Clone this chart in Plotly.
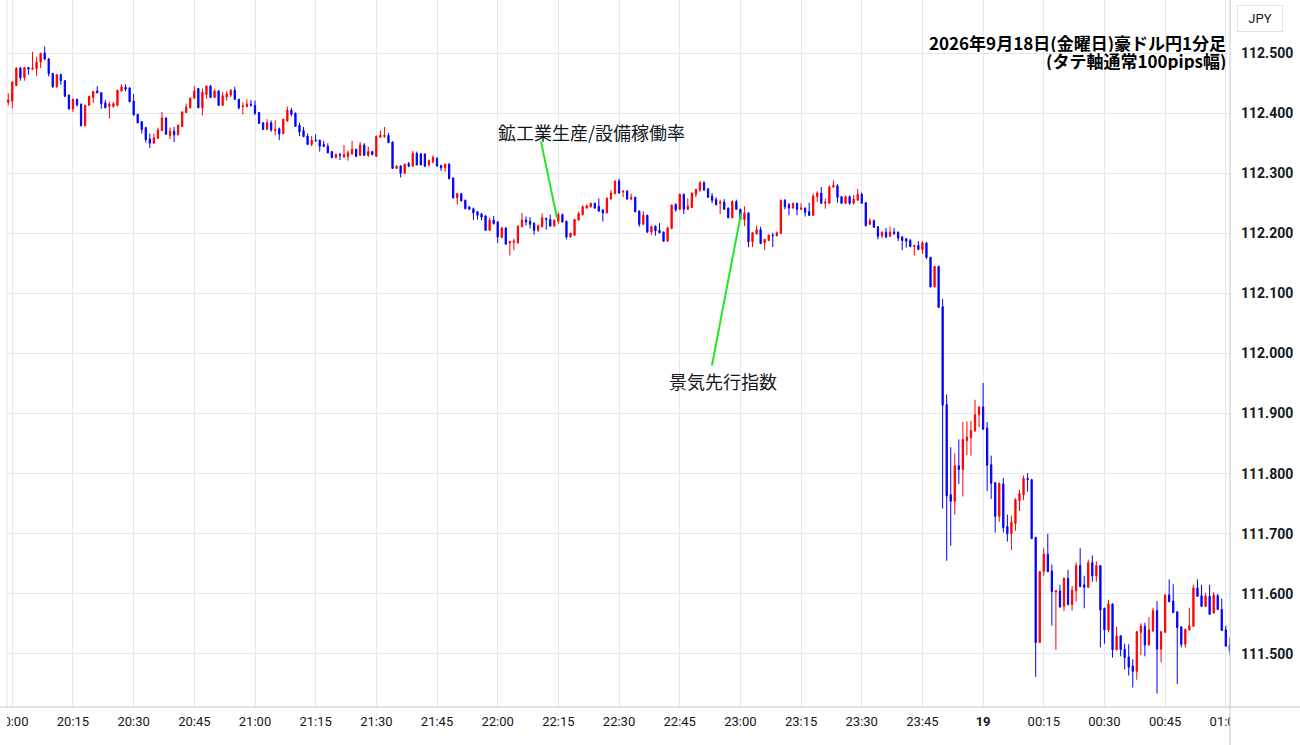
import plotly.graph_objects as go
import pandas as pd

# ---------------- data (AUD/JPY 1-minute candles, 19:59 -> 01:01) ----------------
start_time = "2026-09-18 19:59"

open_ = [
    112.418, 112.420, 112.446, 112.475, 112.459, 112.476, 112.473, 112.474, 112.485, 112.500,
    112.490, 112.466, 112.444, 112.464, 112.454, 112.430, 112.407, 112.423, 112.415, 112.379,
    112.413, 112.426, 112.437, 112.434, 112.417, 112.411, 112.411, 112.413, 112.437, 112.443,
    112.442, 112.420, 112.398, 112.386, 112.376, 112.357, 112.350, 112.358, 112.371, 112.392,
    112.363, 112.370, 112.364, 112.378, 112.401, 112.409, 112.425, 112.441, 112.409, 112.431,
    112.445, 112.426, 112.437, 112.413, 112.427, 112.430, 112.438, 112.423, 112.411, 112.411,
    112.415, 112.413, 112.401, 112.384, 112.373, 112.384, 112.371, 112.374, 112.366, 112.387,
    112.405, 112.400, 112.380, 112.371, 112.362, 112.348, 112.355, 112.355, 112.348, 112.345,
    112.336, 112.326, 112.331, 112.327, 112.328, 112.332, 112.340, 112.330, 112.347, 112.330,
    112.336, 112.328, 112.360, 112.361, 112.363, 112.352, 112.308, 112.312, 112.300, 112.316,
    112.312, 112.333, 112.332, 112.332, 112.314, 112.319, 112.324, 112.313, 112.309, 112.315,
    112.292, 112.259, 112.266, 112.255, 112.244, 112.241, 112.236, 112.232, 112.229, 112.205,
    112.222, 112.219, 112.193, 112.209, 112.184, 112.185, 112.184, 112.211, 112.222, 112.220,
    112.217, 112.205, 112.211, 112.225, 112.223, 112.212, 112.220, 112.231, 112.220, 112.194,
    112.197, 112.222, 112.231, 112.242, 112.244, 112.250, 112.245, 112.239, 112.234, 112.257,
    112.266, 112.287, 112.269, 112.270, 112.257, 112.260, 112.237, 112.215, 112.230, 112.202,
    112.212, 112.205, 112.202, 112.187, 112.208, 112.248, 112.240, 112.265, 112.240, 112.243,
    112.265, 112.272, 112.284, 112.274, 112.262, 112.256, 112.250, 112.252, 112.242, 112.226,
    112.253, 112.240, 112.223, 112.234, 112.186, 112.199, 112.206, 112.184, 112.188, 112.197,
    112.196, 112.200, 112.255, 112.248, 112.242, 112.250, 112.240, 112.242, 112.236, 112.230,
    112.261, 112.267, 112.250, 112.250, 112.277, 112.279, 112.261, 112.250, 112.261, 112.250,
    112.255, 112.265, 112.251, 112.215, 112.221, 112.211, 112.196, 112.202, 112.195, 112.202,
    112.202, 112.194, 112.191, 112.188, 112.178, 112.180, 112.173, 112.184, 112.160, 112.111,
    112.145, 112.078, 111.915, 111.765, 111.754, 111.813, 111.807, 111.855, 111.860, 111.871,
    111.898, 111.911, 111.876, 111.815, 111.785, 111.729, 111.783, 111.712, 111.700, 111.717,
    111.755, 111.765, 111.792, 111.790, 111.694, 111.519, 111.637, 111.666, 111.638, 111.603,
    111.605, 111.579, 111.626, 111.582, 111.605, 111.647, 111.615, 111.611, 111.652, 111.630,
    111.647, 111.576, 111.540, 111.583, 111.507, 111.530, 111.508, 111.495, 111.480, 111.471,
    111.536, 111.546, 111.515, 111.538, 111.572, 111.508, 111.536, 111.598, 111.588, 111.570,
    111.545, 111.516, 111.540, 111.546, 111.610, 111.597, 111.579, 111.596, 111.568, 111.597,
    111.574, 111.540, 111.515,
]

high = [
    112.433, 112.453, 112.476, 112.477, 112.477, 112.477, 112.502, 112.494, 112.501, 112.511,
    112.492, 112.467, 112.465, 112.466, 112.455, 112.431, 112.424, 112.424, 112.416, 112.414,
    112.429, 112.437, 112.445, 112.435, 112.422, 112.419, 112.418, 112.439, 112.448, 112.448,
    112.443, 112.432, 112.399, 112.387, 112.377, 112.366, 112.366, 112.376, 112.402, 112.393,
    112.376, 112.377, 112.381, 112.403, 112.416, 112.426, 112.445, 112.442, 112.441, 112.446,
    112.447, 112.440, 112.438, 112.435, 112.436, 112.440, 112.444, 112.424, 112.418, 112.423,
    112.422, 112.421, 112.402, 112.385, 112.390, 112.388, 112.388, 112.376, 112.391, 112.411,
    112.409, 112.401, 112.384, 112.377, 112.366, 112.362, 112.365, 112.356, 112.354, 112.350,
    112.337, 112.333, 112.334, 112.347, 112.338, 112.354, 112.341, 112.352, 112.350, 112.344,
    112.337, 112.363, 112.371, 112.377, 112.367, 112.353, 112.313, 112.313, 112.316, 112.319,
    112.337, 112.336, 112.334, 112.333, 112.323, 112.330, 112.327, 112.314, 112.316, 112.317,
    112.293, 112.267, 112.267, 112.256, 112.245, 112.243, 112.237, 112.234, 112.230, 112.226,
    112.229, 112.220, 112.211, 112.210, 112.188, 112.191, 112.213, 112.234, 112.228, 112.227,
    112.218, 112.215, 112.233, 112.226, 112.231, 112.223, 112.235, 112.233, 112.221, 112.201,
    112.224, 112.236, 112.247, 112.248, 112.251, 112.251, 112.258, 112.240, 112.260, 112.272,
    112.288, 112.291, 112.272, 112.272, 112.266, 112.261, 112.238, 112.237, 112.231, 112.213,
    112.213, 112.217, 112.203, 112.211, 112.248, 112.250, 112.266, 112.266, 112.258, 112.268,
    112.274, 112.287, 112.287, 112.275, 112.267, 112.260, 112.256, 112.257, 112.243, 112.255,
    112.256, 112.241, 112.245, 112.235, 112.202, 112.213, 112.211, 112.191, 112.198, 112.201,
    112.203, 112.256, 112.257, 112.250, 112.251, 112.251, 112.250, 112.243, 112.251, 112.266,
    112.270, 112.277, 112.258, 112.280, 112.288, 112.282, 112.262, 112.263, 112.263, 112.264,
    112.274, 112.268, 112.252, 112.225, 112.223, 112.212, 112.203, 112.209, 112.211, 112.209,
    112.203, 112.195, 112.192, 112.191, 112.181, 112.187, 112.187, 112.185, 112.161, 112.146,
    112.146, 112.091, 111.932, 111.844, 111.834, 111.857, 111.886, 111.887, 111.888, 111.923,
    111.912, 111.951, 111.886, 111.830, 111.786, 111.785, 111.793, 111.732, 111.730, 111.759,
    111.773, 111.797, 111.801, 111.791, 111.695, 111.638, 111.676, 111.700, 111.649, 111.606,
    111.615, 111.627, 111.640, 111.613, 111.652, 111.676, 111.630, 111.657, 111.664, 111.654,
    111.648, 111.577, 111.590, 111.584, 111.545, 111.531, 111.517, 111.516, 111.491, 111.538,
    111.551, 111.552, 111.561, 111.577, 111.588, 111.538, 111.599, 111.624, 111.616, 111.571,
    111.546, 111.542, 111.577, 111.615, 111.624, 111.615, 111.602, 111.615, 111.603, 111.600,
    111.592, 111.547, 111.527,
]

low = [
    112.413, 112.408, 112.445, 112.454, 112.454, 112.464, 112.472, 112.462, 112.475, 112.488,
    112.461, 112.442, 112.442, 112.447, 112.427, 112.406, 112.402, 112.411, 112.378, 112.378,
    112.412, 112.417, 112.433, 112.407, 112.408, 112.391, 112.409, 112.411, 112.436, 112.436,
    112.418, 112.396, 112.383, 112.366, 112.351, 112.342, 112.349, 112.357, 112.370, 112.364,
    112.357, 112.352, 112.363, 112.377, 112.400, 112.408, 112.424, 112.408, 112.396, 112.424,
    112.425, 112.425, 112.412, 112.412, 112.421, 112.427, 112.422, 112.406, 112.398, 112.410,
    112.411, 112.397, 112.382, 112.372, 112.372, 112.369, 112.363, 112.355, 112.365, 112.386,
    112.395, 112.377, 112.362, 112.360, 112.347, 112.345, 112.353, 112.336, 112.343, 112.333,
    112.325, 112.325, 112.322, 112.326, 112.321, 112.331, 112.327, 112.329, 112.329, 112.327,
    112.330, 112.327, 112.359, 112.359, 112.350, 112.307, 112.307, 112.293, 112.299, 112.310,
    112.311, 112.313, 112.313, 112.310, 112.311, 112.316, 112.311, 112.304, 112.302, 112.290,
    112.258, 112.248, 112.253, 112.240, 112.239, 112.222, 112.223, 112.222, 112.204, 112.204,
    112.215, 112.184, 112.192, 112.181, 112.163, 112.172, 112.183, 112.210, 112.213, 112.208,
    112.198, 112.202, 112.210, 112.206, 112.211, 112.211, 112.216, 112.218, 112.190, 112.193,
    112.196, 112.221, 112.230, 112.241, 112.243, 112.241, 112.236, 112.220, 112.233, 112.256,
    112.265, 112.266, 112.260, 112.256, 112.255, 112.235, 112.211, 112.214, 112.201, 112.197,
    112.196, 112.200, 112.186, 112.186, 112.207, 112.236, 112.239, 112.232, 112.239, 112.242,
    112.260, 112.269, 112.271, 112.259, 112.250, 112.246, 112.232, 112.239, 112.225, 112.225,
    112.239, 112.222, 112.212, 112.177, 112.177, 112.198, 112.182, 112.172, 112.187, 112.177,
    112.195, 112.199, 112.240, 112.230, 112.241, 112.230, 112.239, 112.228, 112.229, 112.229,
    112.252, 112.249, 112.241, 112.249, 112.276, 112.251, 112.249, 112.249, 112.247, 112.248,
    112.254, 112.249, 112.211, 112.214, 112.209, 112.190, 112.192, 112.192, 112.194, 112.197,
    112.187, 112.172, 112.176, 112.177, 112.163, 112.172, 112.166, 112.157, 112.110, 112.110,
    112.076, 111.742, 111.655, 111.680, 111.732, 111.783, 111.762, 111.831, 111.830, 111.870,
    111.877, 111.873, 111.771, 111.758, 111.702, 111.720, 111.702, 111.687, 111.673, 111.705,
    111.738, 111.756, 111.770, 111.691, 111.462, 111.518, 111.630, 111.636, 111.547, 111.507,
    111.577, 111.571, 111.581, 111.572, 111.587, 111.611, 111.576, 111.610, 111.620, 111.620,
    111.511, 111.517, 111.536, 111.494, 111.506, 111.496, 111.474, 111.464, 111.444, 111.457,
    111.498, 111.496, 111.514, 111.537, 111.434, 111.486, 111.535, 111.586, 111.568, 111.450,
    111.511, 111.511, 111.539, 111.545, 111.595, 111.578, 111.578, 111.565, 111.567, 111.573,
    111.538, 111.512, 111.499,
]

close = [
    112.422, 112.452, 112.475, 112.459, 112.476, 112.473, 112.475, 112.485, 112.499, 112.490,
    112.466, 112.444, 112.464, 112.454, 112.428, 112.407, 112.423, 112.414, 112.379, 112.413,
    112.428, 112.436, 112.434, 112.416, 112.409, 112.415, 112.416, 112.438, 112.444, 112.440,
    112.419, 112.397, 112.384, 112.373, 112.356, 112.350, 112.359, 112.372, 112.392, 112.365,
    112.370, 112.364, 112.380, 112.402, 112.410, 112.425, 112.437, 112.409, 112.435, 112.445,
    112.426, 112.437, 112.413, 112.429, 112.432, 112.438, 112.423, 112.409, 112.412, 112.415,
    112.413, 112.400, 112.383, 112.373, 112.384, 112.372, 112.373, 112.365, 112.390, 112.405,
    112.398, 112.378, 112.369, 112.361, 112.348, 112.355, 112.354, 112.345, 112.345, 112.334,
    112.326, 112.331, 112.330, 112.331, 112.334, 112.340, 112.328, 112.347, 112.330, 112.336,
    112.331, 112.361, 112.363, 112.363, 112.351, 112.308, 112.312, 112.300, 112.315, 112.312,
    112.333, 112.314, 112.314, 112.312, 112.321, 112.326, 112.312, 112.309, 112.315, 112.291,
    112.259, 112.266, 112.254, 112.241, 112.240, 112.234, 112.230, 112.227, 112.205, 112.222,
    112.216, 112.194, 112.209, 112.182, 112.186, 112.187, 112.212, 112.222, 112.219, 112.215,
    112.205, 112.212, 112.226, 112.223, 112.212, 112.222, 112.231, 112.219, 112.194, 112.200,
    112.223, 112.233, 112.244, 112.246, 112.250, 112.242, 112.237, 112.234, 112.258, 112.267,
    112.287, 112.267, 112.270, 112.257, 112.260, 112.236, 112.215, 112.230, 112.202, 112.211,
    112.204, 112.201, 112.187, 112.209, 112.247, 112.239, 112.265, 112.240, 112.245, 112.267,
    112.273, 112.284, 112.272, 112.260, 112.255, 112.248, 112.252, 112.240, 112.226, 112.253,
    112.240, 112.223, 112.234, 112.186, 112.201, 112.206, 112.183, 112.190, 112.197, 112.196,
    112.201, 112.255, 112.244, 112.242, 112.250, 112.240, 112.242, 112.235, 112.230, 112.262,
    112.267, 112.250, 112.252, 112.277, 112.280, 112.260, 112.250, 112.261, 112.250, 112.257,
    112.265, 112.250, 112.213, 112.221, 112.210, 112.195, 112.202, 112.194, 112.202, 112.200,
    112.192, 112.188, 112.187, 112.178, 112.180, 112.173, 112.184, 112.160, 112.111, 112.145,
    112.077, 111.914, 111.763, 111.754, 111.813, 111.807, 111.857, 111.861, 111.872, 111.898,
    111.911, 111.874, 111.814, 111.784, 111.729, 111.784, 111.710, 111.700, 111.719, 111.757,
    111.767, 111.792, 111.790, 111.692, 111.519, 111.637, 111.666, 111.637, 111.604, 111.605,
    111.578, 111.626, 111.582, 111.606, 111.647, 111.612, 111.611, 111.652, 111.630, 111.647,
    111.573, 111.540, 111.583, 111.507, 111.530, 111.507, 111.494, 111.478, 111.471, 111.537,
    111.546, 111.515, 111.540, 111.572, 111.508, 111.537, 111.598, 111.587, 111.569, 111.544,
    111.516, 111.541, 111.547, 111.610, 111.596, 111.579, 111.596, 111.566, 111.598, 111.574,
    111.539, 111.513, 111.505,
]

# x-axis ticks (every 15 minutes; the day change is shown as the date "19")
tick_times = [
    "2026-09-18 20:00", "2026-09-18 20:15", "2026-09-18 20:30", "2026-09-18 20:45",
    "2026-09-18 21:00", "2026-09-18 21:15", "2026-09-18 21:30", "2026-09-18 21:45",
    "2026-09-18 22:00", "2026-09-18 22:15", "2026-09-18 22:30", "2026-09-18 22:45",
    "2026-09-18 23:00", "2026-09-18 23:15", "2026-09-18 23:30", "2026-09-18 23:45",
    "2026-09-19 00:00", "2026-09-19 00:15", "2026-09-19 00:30", "2026-09-19 00:45",
    "2026-09-19 01:00",
]
tick_labels = [
    "20:00", "20:15", "20:30", "20:45", "21:00", "21:15", "21:30", "21:45",
    "22:00", "22:15", "22:30", "22:45", "23:00", "23:15", "23:30", "23:45",
    "<b>19</b>", "00:15", "00:30", "00:45", "01:00",
]

# y-axis ticks
price_ticks = [111.5, 111.6, 111.7, 111.8, 111.9, 112.0, 112.1, 112.2, 112.3, 112.4, 112.5]
price_labels = ["111.500", "111.600", "111.700", "111.800", "111.900", "112.000",
                "112.100", "112.200", "112.300", "112.400", "112.500"]

# economic-event annotations (label position and leader line, in time/price)
event_labels = ["鉱工業生産/設備稼働率", "景気先行指数"]
event_label_times = ["2026-09-18 22:23:04", "2026-09-18 22:55:42"]
event_label_prices = [112.368, 111.955]
leader_start_times = ["2026-09-18 22:10:42", "2026-09-18 22:52:58"]
leader_start_prices = [112.353, 111.980]
leader_end_times = ["2026-09-18 22:14:40", "2026-09-18 23:00:09"]
leader_end_prices = [112.225, 112.233]

title_lines = ["2026年9月18日(金曜日)豪ドル円1分足", "(タテ軸通常100pips幅)"]

x_range = ["2026-09-18 19:58:41.4", "2026-09-19 01:01:02.4"]
y_range = [111.41167, 112.58833]

# ---------------- figure ----------------
UP = "#ff0000"
DOWN = "#0000ff"
GRID = "#e3e8ef"
AXIS = "#c3c6ce"
TXT = "#131722"
JP_FONT = "Noto Sans CJK JP"

times = pd.date_range(start_time, periods=len(open_), freq="1min")

fig = go.Figure(
    go.Candlestick(
        x=times, open=open_, high=high, low=low, close=close,
        increasing=dict(line=dict(color=UP, width=1), fillcolor=UP),
        decreasing=dict(line=dict(color=DOWN, width=1), fillcolor=DOWN),
        whiskerwidth=0,
        hoverinfo="skip",
        showlegend=False,
    )
)

W, H = 1300, 745
ML, MR, MT, MB = 7, 70, 0, 38
PW, PH = W - ML - MR, H - MT - MB

shapes = []
# white covers so x tick labels are clipped at the pane edges
shapes.append(dict(type="rect", xref="paper", yref="paper", x0=-ML / PW, x1=0,
                   y0=-MB / PH, y1=0, fillcolor="white", line=dict(width=0), layer="above"))
shapes.append(dict(type="rect", xref="paper", yref="paper", x0=1, x1=1 + MR / PW,
                   y0=-MB / PH, y1=0, fillcolor="white", line=dict(width=0), layer="above"))
# pane borders
shapes.append(dict(type="line", xref="paper", yref="paper", x0=0, x1=0, y0=0, y1=1,
                   line=dict(color=GRID, width=1), layer="below"))
shapes.append(dict(type="line", xref="paper", yref="paper", x0=1, x1=1, y0=-MB / PH, y1=1,
                   line=dict(color=AXIS, width=1), layer="above"))
shapes.append(dict(type="line", xref="paper", yref="paper", x0=-ML / PW, x1=1 + MR / PW,
                   y0=0, y1=0, line=dict(color=AXIS, width=1), layer="above"))
# event leader lines
for i in range(len(event_labels)):
    shapes.append(dict(type="line", xref="x", yref="y",
                       x0=leader_start_times[i], y0=leader_start_prices[i],
                       x1=leader_end_times[i], y1=leader_end_prices[i],
                       line=dict(color="#22e622", width=2), layer="above"))

annotations = []
for i, lab in enumerate(event_labels):
    annotations.append(dict(x=event_label_times[i], y=event_label_prices[i], xref="x", yref="y",
                            text=lab, showarrow=False, xanchor="center", yanchor="middle",
                            font=dict(family=JP_FONT, size=18, color=TXT)))
annotations.append(dict(x=(1228 - ML) / PW, y=1 - 42 / PH, xref="paper", yref="paper",
                        text=title_lines[0], showarrow=False, align="right",
                        xanchor="right", yanchor="middle", height=19,
                        font=dict(family=JP_FONT, size=17, color="#000000", weight="bold")))
annotations.append(dict(x=(1228 - ML) / PW, y=1 - 61 / PH, xref="paper", yref="paper",
                        text=title_lines[1], showarrow=False, align="right",
                        xanchor="right", yanchor="middle", height=19,
                        font=dict(family=JP_FONT, size=17, color="#000000", weight="bold")))
annotations.append(dict(x=(1260 - ML) / PW, y=1 - 18.5 / PH, xref="paper", yref="paper",
                        text="JPY", showarrow=False, xanchor="center", yanchor="middle",
                        width=44, height=25, bordercolor="#e0e3eb", borderwidth=1, borderpad=0,
                        bgcolor="white", font=dict(family="Roboto", size=13, color=TXT)))

fig.update_layout(
    width=W, height=H,
    margin=dict(l=ML, r=MR, t=MT, b=MB, pad=0, autoexpand=False),
    paper_bgcolor="white", plot_bgcolor="white",
    boxgap=0.55,
    showlegend=False,
    hovermode=False,
    shapes=shapes,
    annotations=annotations,
    xaxis=dict(
        type="date", range=x_range, automargin=False,
        rangeslider=dict(visible=False),
        tickmode="array", tickvals=tick_times, ticktext=tick_labels,
        showgrid=True, gridcolor=GRID, gridwidth=1,
        showline=False, zeroline=False, ticks="",
        ticklabelstandoff=5, ticklabeloverflow="allow",
        tickfont=dict(family="Roboto", size=13, color=TXT),
        fixedrange=True,
    ),
    yaxis=dict(
        side="right", range=y_range, automargin=False,
        tickmode="array", tickvals=price_ticks, ticktext=price_labels,
        showgrid=True, gridcolor=GRID, gridwidth=1,
        showline=False, zeroline=False, ticks="",
        ticklabelstandoff=10, ticklabeloverflow="allow",
        tickfont=dict(family="Roboto", size=14, color=TXT, weight="bold"),
        fixedrange=True,
    ),
)

fig.write_html(
    "out.html",
    config={"displayModeBar": False},
    post_script="document.body.style.margin='0px';document.body.style.padding='0px';"
                "document.body.style.overflow='hidden';",
)
